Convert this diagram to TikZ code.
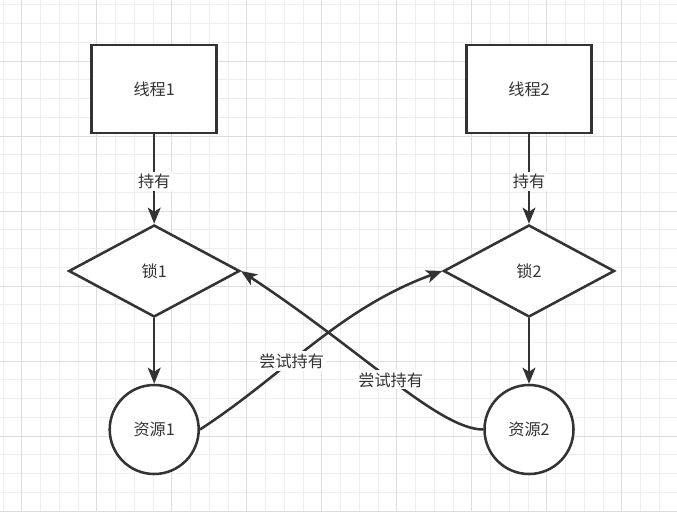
\documentclass[tikz,border=0pt]{standalone}
\usepackage{fontspec}
\usepackage{xcolor}
\usepackage{tikz}
\usetikzlibrary{shapes.geometric, arrows.meta, positioning}
\newfontfamily\cjk{Noto Sans CJK SC}
\definecolor{dlstroke}{HTML}{333333}
\definecolor{dlgridminor}{HTML}{EEEEEE}
\definecolor{dlgridmajor}{HTML}{DDDDDD}

\begin{document}
\begin{tikzpicture}[
    every node/.style={font=\cjk\fontsize{11.5}{13}\selectfont, text=dlstroke},
    threadbox/.style={draw=dlstroke, line width=1.9pt, fill=white, minimum width=3.125cm, minimum height=2.2cm},
    lockshape/.style={diamond, draw=dlstroke, line width=1.8pt, fill=white, minimum width=4.275cm, minimum height=2.3cm, inner sep=0pt},
    resshape/.style={circle, draw=dlstroke, line width=1.8pt, fill=white, minimum size=2.225cm, inner sep=0pt},
    link/.style={-{Stealth[length=4mm, width=3.2mm, inset=1mm]}, line width=1.8pt, dlstroke},
    tag/.style={fill=white, inner sep=1.5pt}
]
    \useasboundingbox (0,0) rectangle (16.925,12.775);
    \fill[white] (0,0) rectangle (16.925,12.775);

    % grid
    \draw[dlgridminor, line width=0.6pt, step=0.46875, shift={(0.07375,0)}] (-0.07375,0) grid (16.85,12.775);
    \draw[dlgridmajor, line width=0.6pt, step=1.875, shift={(0.5425,0)}] (-0.5425,0) grid (16.3825,12.775);

    % threads
    \node[threadbox] (thread1) at (3.855, 10.55) {线程1};
    \node[threadbox] (thread2) at (13.225, 10.55) {线程2};

    % locks
    \node[lockshape] (lock1) at (3.855, 6.0) {锁1};
    \node[lockshape] (lock2) at (13.225, 6.0) {锁2};

    % resources
    \node[resshape] (res1) at (3.855, 2.0375) {资源1};
    \node[resshape] (res2) at (13.225, 2.0375) {资源2};

    % arrows
    \draw[link] (thread1) -- node[tag, pos=0.53] {持有} (lock1);
    \draw[link] (thread2) -- node[tag, pos=0.53] {持有} (lock2);
    \draw[link] (lock1) -- (res1);
    \draw[link] (lock2) -- (res2);

    % crossing tries
    \draw[link] (res1.east) .. controls +(33:2.5) and +(200:2.75) .. node[tag, pos=0.4] {尝试持有} (lock2.west);
    \draw[link] (res2.west) .. controls +(180:1.1) and +(-33.3:3.6) .. node[tag, pos=0.5] {尝试持有} (lock1.east);
\end{tikzpicture}
\end{document}
